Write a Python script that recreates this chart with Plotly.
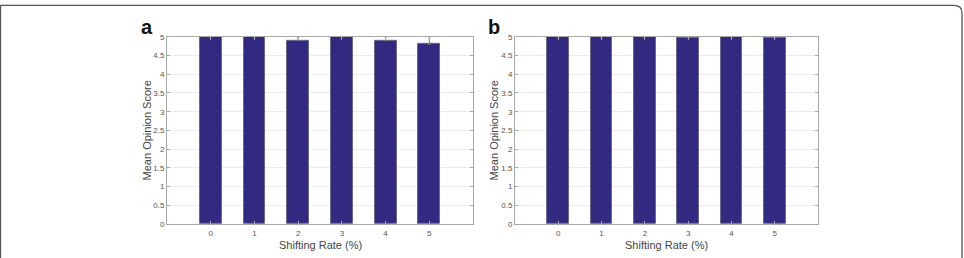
import plotly.graph_objects as go

W, H = 964, 258

rates = [0, 1, 2, 3, 4, 5]
tick_labels = ["0", "1", "2", "3", "4", "5"]
mos_a = [5.0, 5.0, 4.9, 5.0, 4.9, 4.8]
err_a = [0.0, 0.0, 0.1, 0.0, 0.1, 0.2]
mos_b = [5.0, 5.0, 5.0, 4.97, 5.0, 4.97]
err_b = [0.0, 0.0, 0.0, 0.03, 0.0, 0.03]
y_ticks = [0, 0.5, 1, 1.5, 2, 2.5, 3, 3.5, 4, 4.5, 5]
y_tick_labels = ["0", "0.5", "1", "1.5", "2", "2.5", "3", "3.5", "4", "4.5", "5"]

BAR = "#312a80"
EDGE = "#6b6890"

def px_x(p):
    return p / W

def px_y(p):
    return 1 - p / H

fig = go.Figure()
for i, (vals, errs) in enumerate([(mos_a, err_a), (mos_b, err_b)]):
    suffix = "" if i == 0 else "2"
    fig.add_trace(go.Bar(
        x=rates, y=vals, width=0.5,
        marker=dict(color=BAR, line=dict(color=EDGE, width=1)),
        error_y=dict(type="data", array=errs, arrayminus=[0] * len(errs),
                     symmetric=False, visible=True, color="#777",
                     thickness=1, width=1.5),
        xaxis="x" + suffix, yaxis="y" + suffix, showlegend=False,
    ))

y_dom = [px_y(228), px_y(34)]
axis_common = dict(showline=True, linecolor="#a8a8a8", linewidth=1, mirror="ticks",
                   ticks="inside", ticklen=3, tickcolor="#a8a8a8",
                   tickfont=dict(family="Liberation Sans, Arial", size=8, color="#555"),
                   zeroline=False)
xa = dict(axis_common, range=[-1, 6], tickmode="array", tickvals=rates,
          ticktext=tick_labels, showgrid=False, ticklabelstandoff=1)
ya = dict(axis_common, range=[0, 5], tickmode="array", tickvals=y_ticks,
          ticktext=y_tick_labels, showgrid=True, gridcolor="#ececec", gridwidth=1)

fig.update_layout(
    width=W, height=H, margin=dict(l=0, r=0, t=0, b=0),
    paper_bgcolor="white", plot_bgcolor="white",
    xaxis=dict(xa, domain=[px_x(167), px_x(473)], anchor="y"),
    yaxis=dict(ya, domain=y_dom, anchor="x"),
    xaxis2=dict(xa, domain=[px_x(515), px_x(818)], anchor="y2"),
    yaxis2=dict(ya, domain=y_dom, anchor="x2"),
    bargap=0,
)

font_title = dict(family="Liberation Sans, Arial", size=11, color="#444")
ann = []
for cx, px_ylab in [(320, 147), (666.5, 494)]:
    ann.append(dict(x=px_x(cx), y=px_y(250), xref="paper", yref="paper",
                    text="Shifting Rate (%)", showarrow=False, font=font_title,
                    xanchor="center", yanchor="middle"))
    ann.append(dict(x=px_x(px_ylab), y=px_y(131), xref="paper", yref="paper",
                    text="Mean Opinion Score", showarrow=False, font=font_title,
                    textangle=-90, xanchor="center", yanchor="middle"))
for lx, letter in [(147, "a"), (494, "b")]:
    ann.append(dict(x=px_x(lx), y=px_y(24), xref="paper", yref="paper",
                    text="<b>" + letter + "</b>", showarrow=False,
                    font=dict(family="Liberation Sans, Arial", size=20, color="#111"),
                    xanchor="center", yanchor="middle"))
fig.update_layout(annotations=ann)

# outer rounded frame
r = 8
path = (f"M {px_x(0.5)},{px_y(275)} L {px_x(0.5)},{px_y(1.5)} "
        f"L {px_x(962 - r)},{px_y(1.5)} Q {px_x(962)},{px_y(1.5)} {px_x(962)},{px_y(1.5 + r)} "
        f"L {px_x(962)},{px_y(275)}")
fig.add_shape(type="path", path=path, xref="paper", yref="paper",
              line=dict(color="#555", width=1.3))

fig.write_html("out.html")
